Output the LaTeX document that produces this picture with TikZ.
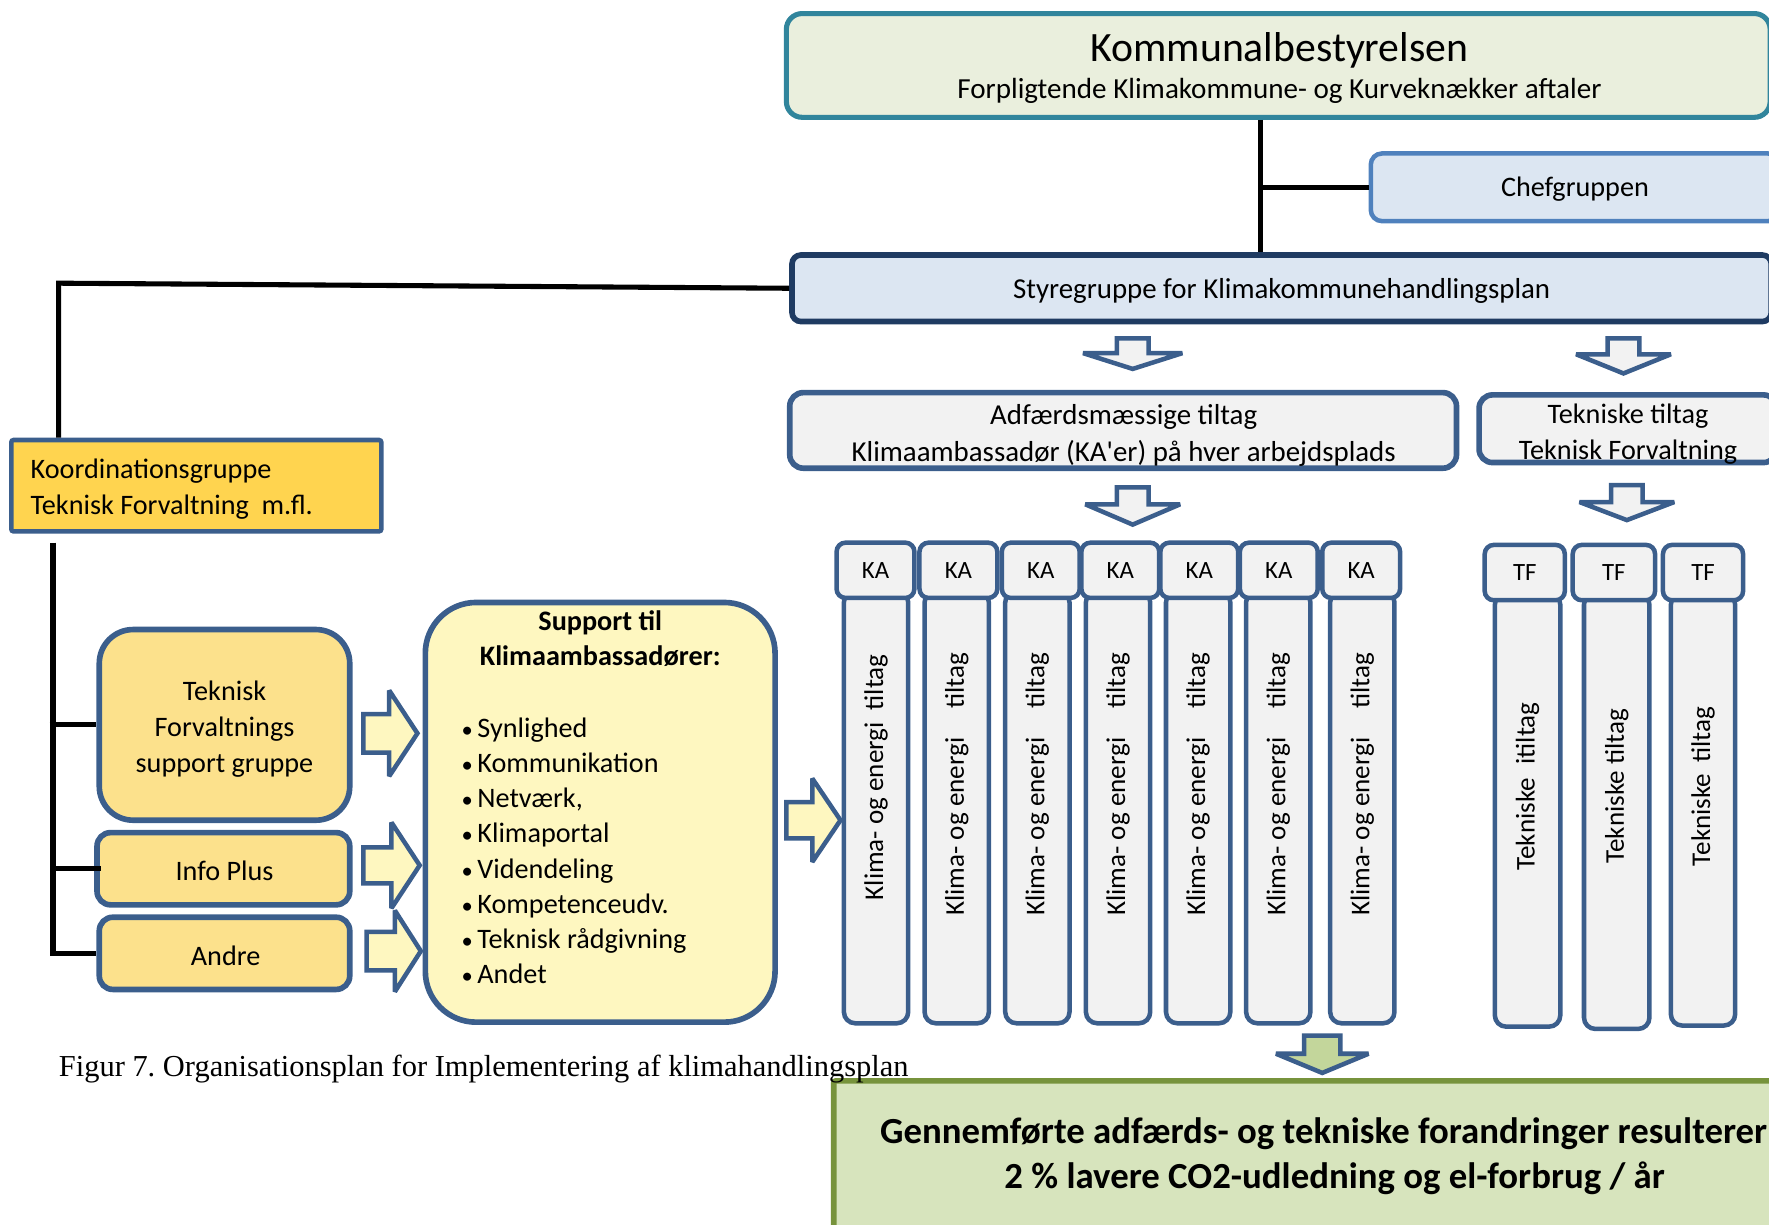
\documentclass[tikz,border=0pt]{standalone}
\usepackage{fontspec}
\setmainfont{Carlito}
\newfontfamily\timesf{Liberation Serif}
\usetikzlibrary{calc}
\definecolor{bordblue}{HTML}{3B5E8C}
\definecolor{komfill}{HTML}{EAEFDD}
\definecolor{komdraw}{HTML}{31859C}
\definecolor{chefdraw}{HTML}{4F81BD}
\definecolor{lightblue}{HTML}{DCE6F2}
\definecolor{navy}{HTML}{1F3B62}
\definecolor{gold}{HTML}{FFD44F}
\definecolor{lgold}{HTML}{FCE18C}
\definecolor{lyellow}{HTML}{FEF7C0}
\definecolor{lgrey}{HTML}{F2F2F2}
\definecolor{resfill}{HTML}{D7E4BD}
\definecolor{resdraw}{HTML}{77933C}
\definecolor{garrow}{HTML}{C3D69B}
\newcommand\fsz[2]{\fontsize{#1}{#2}\selectfont}
\newcommand\rblock[7]{% fill, xl, yc, body len, total len, half body, half head
  \draw[blockarrow,fill=#1] (#2,#3-#6) -- (#2+#4,#3-#6) -- (#2+#4,#3-#7) -- (#2+#5,#3)
    -- (#2+#4,#3+#7) -- (#2+#4,#3+#6) -- (#2,#3+#6) -- cycle;}
\newcommand\dblock[7]{% fill, xc, ytop, body len, total len, half body, half head
  \draw[blockarrow,fill=#1] (#2-#6,#3) -- (#2+#6,#3) -- (#2+#6,#3+#4) -- (#2+#7,#3+#4)
    -- (#2,#3+#5) -- (#2-#7,#3+#4) -- (#2-#6,#3+#4) -- cycle;}
\newcommand\bul{{\fsz{20}{31}•}\hspace{4pt}}
\tikzset{
  every node/.style={font=\fsz{25}{31}},
  box/.style={draw=bordblue, line width=4pt, inner sep=0pt, align=center},
  conn/.style={draw=black, line width=4.5pt, line join=miter},
  blockarrow/.style={draw=bordblue, line width=4pt, line join=miter, miter limit=2.5},
  hdr/.style={box, fill=lgrey, rounded corners=8pt, minimum width=69pt, minimum height=49pt, font=\fsz{22}{26}},
  col/.style={box, fill=lgrey, rounded corners=10pt, minimum width=57pt, minimum height=383pt},
  vtext/.style={rotate=90, font=\fsz{24}{28}},
  tlabel/.style={inner sep=0pt, align=center}
}
\frenchspacing
\begin{document}
\begin{tikzpicture}[x=1pt,y=-1pt]
\useasboundingbox (0,0) rectangle (1568,1085);
\clip (0,0) rectangle (1568,1085);

% top boxes
\node[box, draw=komdraw, line width=4.5pt, fill=komfill, rounded corners=14pt,
      minimum width=872pt, minimum height=92pt] (kom) at (1133,58) {};
\node[tlabel, font=\fsz{37}{40}] (komt1) at (1134,45) {Kommunalbestyrelsen};
\node[tlabel, font=\fsz{25.8}{30}] (komt2) at (1134,81) {Forpligtende Klimakommune- og Kurveknækker\ aftaler};
\node[box, draw=chefdraw, fill=lightblue, rounded corners=10pt,
      minimum width=362pt, minimum height=60pt] (chef) at (1396,166) {};
\node[tlabel] (cheft) at (1396,168) {Chefgruppen};
\node[box, draw=navy, line width=5pt, fill=lightblue, rounded corners=8pt,
      minimum width=868pt, minimum height=59pt] (sty) at (1136,255.5) {};
\node[tlabel, font=\fsz{25.6}{31}] (styt) at (1136,258) {Styregruppe for Klimakommunehandlingsplan};

% left boxes
\node[box, fill=gold, rounded corners=2pt, minimum width=328pt, minimum height=81pt] (ko) at (174,430.5) {};
\node[anchor=west, align=left, inner sep=0pt, font=\fsz{25}{32}] (kotext) at ([xshift=19pt,yshift=-3pt]ko.west)
  {Koordinationsgruppe\\Teknisk Forvaltning\ \ m.fl.};
\node[box, line width=5pt, fill=lgold, rounded corners=30pt, minimum width=222pt, minimum height=169pt] (tfs) at (199,642.5) {};
\node[tlabel, font=\fsz{25}{32}] (tfst) at (199,646.5) {Teknisk\\Forvaltnings\\support gruppe};
\node[box, line width=5pt, fill=lgold, rounded corners=12pt, minimum width=224pt, minimum height=64pt] (info) at (198,770) {};
\node[tlabel] (infot) at (199,772) {Info Plus};
\node[box, line width=5pt, fill=lgold, rounded corners=12pt, minimum width=222pt, minimum height=64pt] (andre) at (199,845) {};
\node[tlabel] (andret) at (200,847) {Andre};

% support box
\node[box, line width=5pt, fill=lyellow, rounded corners=45pt, minimum width=310pt, minimum height=372pt] (sup) at (532,720) {};
\node[anchor=north, align=center, inner sep=0pt, font=\bfseries\fsz{25}{31}] (suptitle) at (532,541)
  {Support til\\Klimaambassadører:};
\node[anchor=north west, align=left, inner sep=0pt, font=\fsz{25}{31.2}] (suplist) at (409,636)
  {\bul Synlighed\\\bul Kommunikation\\\bul Netværk,\\\bul Klimaportal\\\bul Videndeling\\\bul Kompetenceudv.\\\bul Teknisk rådgivning\\\bul Andet};

% middle boxes
\node[box, line width=5pt, fill=lgrey, rounded corners=12pt, minimum width=591pt, minimum height=67pt] (adf) at (995.5,381.5) {};
\node[tlabel, font=\fsz{25.6}{32}] (adft) at (996,386) {Adfærdsmæssige tiltag\\Klimaambassadør (KA\textquotesingle er) på hver arbejdsplads};
\node[box, line width=5pt, fill=lgrey, rounded corners=12pt, minimum width=264pt, minimum height=60pt] (tek) at (1443,380) {};
\node[tlabel, font=\fsz{25}{32}] (tektext) at (1443,385) {Tekniske tiltag\\Teknisk Forvaltning};

% KA columns
\foreach \i/\hx/\bx in {1/776/776.5, 2/849.5/848, 3/922.5/919.5, 4/993/991, 5/1063/1062, 6/1133.5/1133, 7/1206.5/1207.5} {
  \node[col] (kab\i) at (\bx,715.5) {};
  \node[hdr] (ka\i) at (\hx,505.5) {KA};
  \ifnum\i=1
    \node[vtext] (kat\i) at (\bx,689) {Klima- og energi\ \ tiltag};
  \else
    \node[vtext] (kat\i) at (\bx,695) {Klima- og energi\hspace{26pt}tiltag};
  \fi
}
% TF columns
\node[col, minimum width=58pt, minimum height=384pt] (tfb1) at (1354,718) {};
\node[hdr, minimum width=71pt] (tf1) at (1351.5,507.5) {TF};
\node[vtext] (tft1) at (1354,697) {Tekniske\hspace{12pt}itiltag};
\node[col, minimum width=58pt, minimum height=386pt] (tfb2) at (1433,719) {};
\node[hdr, minimum width=73pt] (tf2) at (1430.5,507.5) {TF};
\node[vtext] (tft2) at (1433,697) {Tekniske tiltag};
\node[col, minimum width=57pt, minimum height=383pt] (tfb3) at (1509.5,717.5) {};
\node[hdr, minimum width=71pt] (tf3) at (1509.5,507.5) {TF};
\node[vtext] (tft3) at (1509.5,697) {Tekniske\hspace{10pt}tiltag};

% result box
\node[box, draw=resdraw, line width=5pt, fill=resfill, rounded corners=2pt, minimum width=842pt, minimum height=132pt] (res) at (1160,1024) {};
\node[anchor=west, inner sep=0pt, font=\bfseries\fsz{32.6}{36}] (res1) at (780,1005) {Gennemførte adfærds- og tekniske forandringer resulterer};
\node[inner sep=0pt, font=\bfseries\fsz{32.6}{36}] (res2) at (1183,1044) {2 \% lavere CO2-udledning og el-forbrug / år};

% caption
\node[anchor=base west, inner sep=0pt, font=\timesf\fsz{27}{32}] (cap) at (52,954) {Figur 7. Organisationsplan for Implementering af klimahandlingsplan};

% connectors
\coordinate (kv) at ([xshift=-16pt]kom.south);
\draw[conn] (kv) -- (kv |- sty.north);
\draw[conn] (chef.west) -- (chef.west -| kv);
\coordinate (kc) at (52,251);
\draw[conn] (sty.west) -- (kc) -- (kc |- ko.north);
\coordinate (kb) at (47,481);
\draw[conn] (kb) -- (kb |- andre.west) -- (andre.west);
\draw[conn] ([xshift=-3pt]kb |- tfs.west) -- (tfs.west);
\draw[conn] (kb |- info.west) -- ([xshift=6pt]info.west);

% block arrows
\rblock{lyellow}{322}{650}{23}{48}{17}{38}
\rblock{lyellow}{322}{767}{25}{50}{16}{38}
\rblock{lyellow}{325}{843}{25}{48}{17}{36}
\rblock{lyellow}{697}{727}{23}{48}{16}{37}
\dblock{lgrey}{1004}{300}{13}{27}{14}{44}
\dblock{lgrey}{1439}{300}{14}{31}{14}{42}
\dblock{lgrey}{1004}{432}{15}{33}{14}{42}
\dblock{lgrey}{1442}{430}{15}{31}{14}{42}
\dblock{garrow}{1172}{918}{16}{33}{16}{41}
\end{tikzpicture}
\end{document}
